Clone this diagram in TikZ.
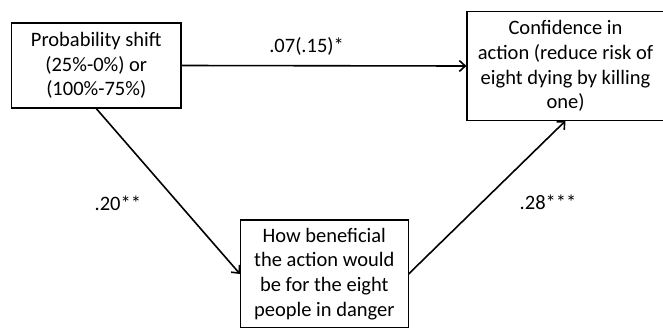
\documentclass[tikz,border=0pt]{standalone}
\usepackage{fontspec}
\setmainfont{Carlito}
\usetikzlibrary{arrows.meta}
\begin{document}
\begin{tikzpicture}[x=1pt,y=-1pt,
  box/.style={draw,line width=1.1pt,inner sep=0pt,align=center,font=\fontsize{20.5}{24.8}\selectfont},
  lbl/.style={font=\fontsize{20.5}{24}\selectfont,inner sep=0pt},
  conn/.style={line width=1.6pt,-{Straight Barb[length=6pt,width=11pt,line width=1.6pt]}}]
\useasboundingbox (0,0) rectangle (663,327);
\node[box,minimum width=169.5pt,minimum height=85pt] (left) at (96.25,65.5)
  {Probability shift\\(25\%-0\%) or\\(100\%-75\%)};
\node[box,minimum width=197pt,minimum height=108.5pt] (right) at (565.5,66)
  {Confidence in\\action (reduce risk of\\eight dying by killing\\one)};
\node[box,minimum width=167.5pt,minimum height=108pt] (mid) at (324.3,274)
  {How beneficial\\the action would\\be for the eight\\people in danger};
\draw[conn] (left.east) -- (right.west);
\draw[conn] (left.south) -- (mid.west);
\draw[conn] (mid.east) -- (right.south);
\node[lbl] (l1) at (306.6,46.7) {.07(.15)*};
\node[lbl] (l2) at (117.8,203.3) {.20**};
\node[lbl] (l3) at (548,202.7) {.28***};
\end{tikzpicture}
\end{document}
